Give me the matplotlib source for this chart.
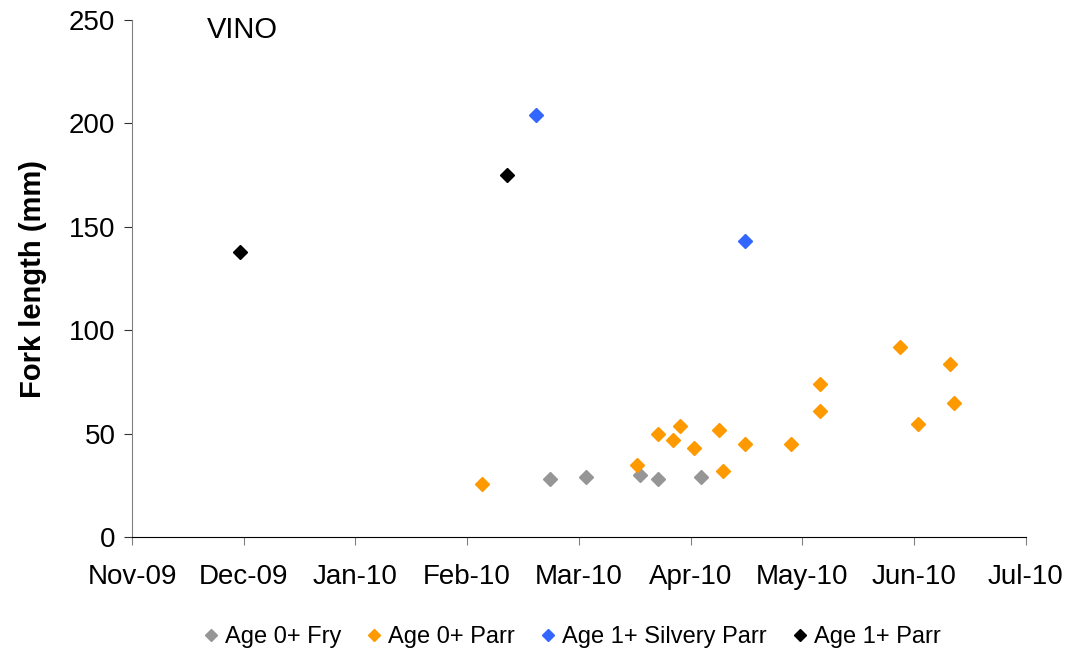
import matplotlib
matplotlib.use("Agg")
import matplotlib.pyplot as plt
import matplotlib.dates as mdates
import numpy as np
import datetime as dt

plt.rcParams['font.family'] = ['Liberation Sans', 'DejaVu Sans']

# Fork length (mm) by sampling date, per life stage
fry_dates = ['2010-02-25', '2010-03-07', '2010-03-22', '2010-03-27', '2010-04-08']
fry_len = [28, 29, 30, 28, 29]

parr_dates = ['2010-02-06', '2010-03-21', '2010-03-27', '2010-03-31', '2010-04-02',
              '2010-04-06', '2010-04-13', '2010-04-14', '2010-04-20', '2010-05-03',
              '2010-05-11', '2010-05-11', '2010-06-02', '2010-06-07', '2010-06-16',
              '2010-06-17']
parr_len = [26, 35, 50, 47, 54, 43, 52, 32, 45, 45, 74, 61, 92, 55, 84, 65]

silvery_dates = ['2010-02-21', '2010-04-20']
silvery_len = [204, 143]

parr1_dates = ['2009-12-01', '2010-02-13']
parr1_len = [138, 175]

series = [
    ('Age 0+ Fry', fry_dates, fry_len, '#969696'),
    ('Age 0+ Parr', parr_dates, parr_len, '#FF9900'),
    ('Age 1+ Silvery Parr', silvery_dates, silvery_len, '#3366FF'),
    ('Age 1+ Parr', parr1_dates, parr1_len, '#000000'),
]

fig = plt.figure(figsize=(10.7, 6.58), dpi=100)
ax = fig.add_axes([0.1234, 0.1834, 0.8352, 0.7862])

for name, d, v, c in series:
    x = [dt.datetime.strptime(s, '%Y-%m-%d') for s in d]
    ax.plot(x, v, linestyle='none', marker='D', ms=7.5, color=c, label=name)

start = dt.datetime(2009, 11, 1)
ticks = [start + dt.timedelta(days=31 * k) for k in range(9)]
ax.set_xticks(ticks)
ax.xaxis.set_major_formatter(mdates.DateFormatter('%b-%y'))
ax.set_xlim(ticks[0], ticks[-1])
ax.set_ylim(0, 250)
ax.set_yticks(np.arange(0, 251, 50))

for s in ['top', 'right']:
    ax.spines[s].set_visible(False)
ax.spines['left'].set_color('#808080')
ax.spines['bottom'].set_color('#000000')
ax.tick_params(axis='both', labelsize=20, colors='#000000')
ax.tick_params(axis='x', length=6, pad=13, color='#808080')
ax.tick_params(axis='y', length=6, pad=6, color='#333333')

ax.set_ylabel('Fork length (mm)', fontsize=21, fontweight='bold', labelpad=16)
ax.text(0.084, 0.98, 'VINO', transform=ax.transAxes, fontsize=21, va='center', ha='left')

ax.legend(loc='center', bbox_to_anchor=(0.49, -0.193), ncol=4, frameon=False,
          fontsize=17, handletextpad=0.1, columnspacing=0.9, markerscale=0.8,
          handlelength=1.0)

fig.savefig('out.png', dpi=100)
